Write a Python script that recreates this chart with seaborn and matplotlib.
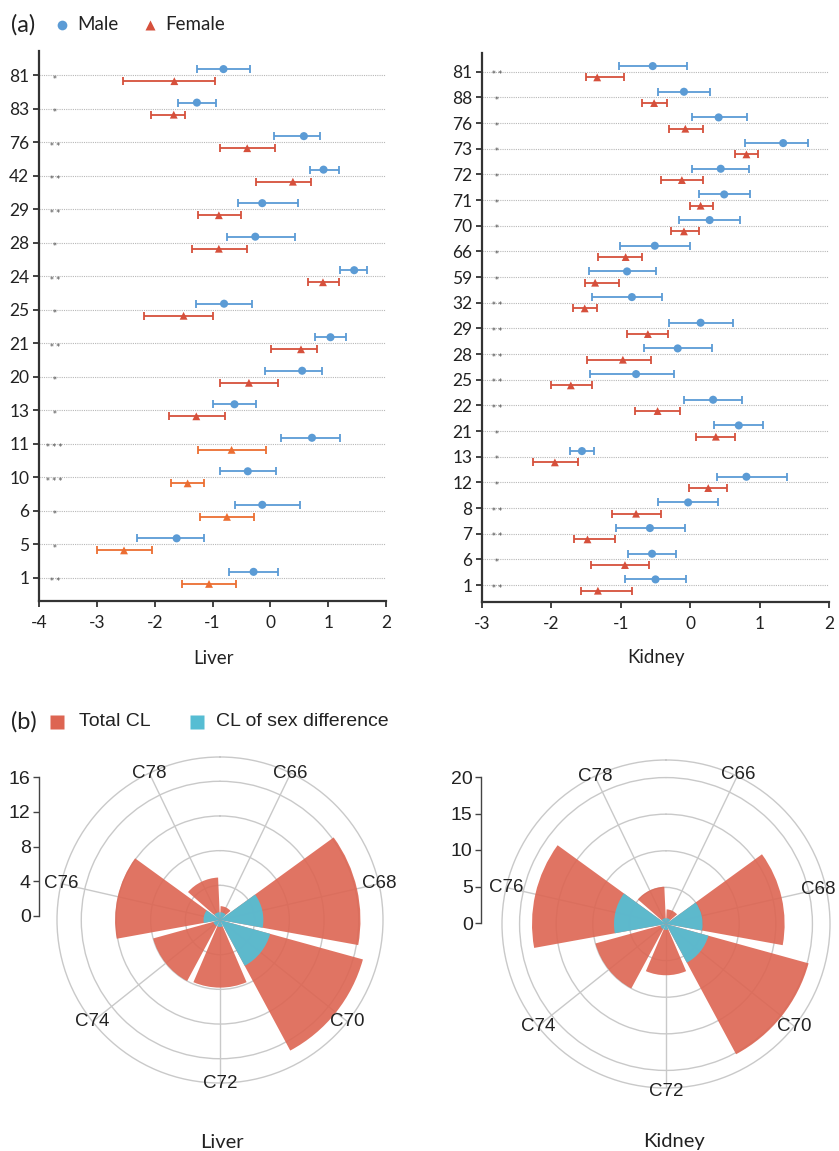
import numpy as np
import seaborn as sns
import matplotlib.pyplot as plt
from matplotlib.lines import Line2D

sns.set_theme(style="white")
plt.rcParams['font.family'] = ['Lato', 'DejaVu Sans']
plt.rcParams['axes.unicode_minus'] = False

# ---- (a) forest data: liver ----
liver_ids = ['81', '83', '76', '42', '29', '28', '24', '25', '21', '20', '13', '11', '10', '6', '5', '1']
liver_m = [-0.81, -1.27, 0.58, 0.92, -0.14, -0.26, 1.45, -0.80, 1.04, 0.55, -0.62, 0.72, -0.39, -0.14, -1.62, -0.29]
liver_m_lo = [-1.27, -1.60, 0.07, 0.69, -0.56, -0.75, 1.21, -1.28, 0.77, -0.10, -0.99, 0.19, -0.87, -0.61, -2.30, -0.72]
liver_m_hi = [-0.35, -0.94, 0.86, 1.18, 0.47, 0.43, 1.68, -0.32, 1.31, 0.89, -0.24, 1.20, 0.09, 0.51, -1.15, 0.14]
liver_f = [-1.66, -1.67, -0.40, 0.39, -0.89, -0.89, 0.91, -1.50, 0.53, -0.37, -1.28, -0.67, -1.43, -0.75, -2.53, -1.06]
liver_f_lo = [-2.54, -2.06, -0.87, -0.24, -1.25, -1.35, 0.65, -2.19, 0.02, -0.87, -1.75, -1.25, -1.72, -1.21, -3.00, -1.52]
liver_f_hi = [-0.96, -1.47, 0.08, 0.70, -0.51, -0.41, 1.18, -1.00, 0.80, 0.14, -0.79, -0.07, -1.15, -0.29, -2.05, -0.59]
liver_f_tone = ['red'] * 11 + ['orange'] * 5
liver_stars = ['*', '*', '**', '**', '**', '*', '**', '*', '**', '*', '*', '***', '***', '*', '*', '**']

# ---- (a) forest data: kidney ----
kidney_ids = ['81', '88', '76', '73', '72', '71', '70', '66', '59', '32', '29',
              '28', '25', '22', '21', '13', '12', '8', '7', '6', '1']
kidney_m = [-0.54, -0.09, 0.41, 1.34, 0.44, 0.49, 0.28, -0.51, -0.91, -0.84, 0.15,
            -0.18, -0.78, 0.33, 0.70, -1.56, 0.81, -0.03, -0.58, -0.55, -0.50]
kidney_m_lo = [-1.02, -0.46, 0.02, 0.79, 0.02, 0.13, -0.16, -1.01, -1.46, -1.41, -0.31,
               -0.67, -1.45, -0.09, 0.35, -1.73, 0.38, -0.47, -1.07, -0.90, -0.94]
kidney_m_hi = [-0.05, 0.28, 0.82, 1.70, 0.85, 0.86, 0.72, -0.01, -0.49, -0.41, 0.61,
               0.31, -0.23, 0.75, 1.05, -1.38, 1.39, 0.40, -0.08, -0.20, -0.06]
kidney_f = [-1.34, -0.52, -0.07, 0.81, -0.12, 0.15, -0.09, -0.93, -1.37, -1.52, -0.61,
            -0.97, -1.72, -0.47, 0.37, -1.95, 0.26, -0.78, -1.48, -0.94, -1.33]
kidney_f_lo = [-1.50, -0.69, -0.31, 0.64, -0.42, -0.01, -0.28, -1.33, -1.52, -1.69, -0.91,
               -1.48, -2.01, -0.79, 0.08, -2.27, -0.02, -1.13, -1.67, -1.43, -1.57]
kidney_f_hi = [-0.96, -0.34, 0.18, 0.98, 0.19, 0.33, 0.12, -0.69, -1.02, -1.35, -0.32,
               -0.57, -1.42, -0.15, 0.65, -1.62, 0.53, -0.42, -1.09, -0.59, -0.84]
kidney_f_tone = ['red'] * 21
kidney_stars = ['**', '*', '*', '*', '*', '*', '*', '*', '*', '**', '**',
                '**', '**', '**', '*', '*', '*', '**', '**', '*', '**']

# ---- (b) rose data ----
cl_cats = ['C66', 'C68', 'C70', 'C72', 'C74', 'C76', 'C78']
liver_total = [1.6, 16.2, 17.1, 7.8, 8.0, 12.1, 4.9]
liver_sex = [0.9, 5.0, 6.0, 0.8, 0.8, 1.9, 0.9]
kidney_total = [2.0, 16.2, 20.2, 7.0, 10.0, 18.3, 5.1]
kidney_sex = [0.8, 5.0, 6.0, 0.8, 0.8, 7.1, 0.8]

BLUE = '#5b9bd5'
FEM = {'red': '#d6503c', 'orange': '#ec6e32'}
TOTAL = '#dd6552'
SEX = '#56bdd3'
INK = '#222222'

W, H = 839, 1151
fig = plt.figure(figsize=(W / 100, H / 100), dpi=100)


def box(x0, y0, x1, y1):
    return [x0 / W, 1 - y1 / H, (x1 - x0) / W, (y1 - y0) / H]


def forest(ax, ids, m, mlo, mhi, f, flo, fhi, tone, stars, xlim, star_x, off, ylim):
    y = np.arange(len(ids))
    m, mlo, mhi = map(np.array, (m, mlo, mhi))
    f, flo, fhi = map(np.array, (f, flo, fhi))
    for yi in y:
        ax.plot(xlim, [yi, yi], color='#b8b8b8', lw=0.8, ls=(0, (1, 1)), zorder=0)
    ax.errorbar(m, y - off, xerr=[m - mlo, mhi - m], fmt='none', ecolor=BLUE,
                elinewidth=1.3, capsize=3, capthick=1.3, zorder=2)
    for i in y:
        ax.errorbar(f[i], i + off, xerr=[[f[i] - flo[i]], [fhi[i] - f[i]]], fmt='none',
                    ecolor=FEM[tone[i]], elinewidth=1.3, capsize=3, capthick=1.3, zorder=2)
    sns.scatterplot(x=m, y=y - off, ax=ax, color=BLUE, marker='o', s=34,
                    edgecolor='none', zorder=3, legend=False)
    sns.scatterplot(x=f, y=y + off, ax=ax, hue=tone, palette=FEM, marker='^', s=32,
                    edgecolor='none', zorder=3, legend=False)
    for yi, s in zip(y, stars):
        ax.text(star_x, yi + 0.12, ' '.join(s), fontsize=5.5, ha='center', va='center',
                color='#444444', family='DejaVu Sans')
    ax.set_xlim(xlim)
    ax.set_ylim(ylim)
    ax.set_yticks(y)
    ax.set_yticklabels(ids)
    ax.set_xticks(range(int(xlim[0]), int(xlim[1]) + 1))
    ax.set_xlabel('')
    ax.set_ylabel('')
    for side in ['top', 'right']:
        ax.spines[side].set_visible(False)
    for side in ['left', 'bottom']:
        ax.spines[side].set_linewidth(1.6)
        ax.spines[side].set_color('#333333')
    ax.tick_params(axis='both', direction='out', length=4, width=1.3, color='#333333',
                   labelsize=12.5, labelcolor=INK, left=True, bottom=True)
    ax.tick_params(axis='y', pad=3)
    ax.tick_params(axis='x', pad=6)


ax1 = fig.add_axes(box(39, 51, 386, 601))
forest(ax1, liver_ids, liver_m, liver_m_lo, liver_m_hi, liver_f, liver_f_lo, liver_f_hi,
       liver_f_tone, liver_stars, (-4, 2), -3.73, 0.18, (15.69, -0.72))
ax2 = fig.add_axes(box(482, 53, 829, 602))
forest(ax2, kidney_ids, kidney_m, kidney_m_lo, kidney_m_hi, kidney_f, kidney_f_lo, kidney_f_hi,
       kidney_f_tone, kidney_stars, (-3, 2), -2.79, 0.22, (20.66, -0.73))

fig.text(213 / W, 1 - 658 / H, 'Liver', ha='center', va='center', fontsize=13.5, color=INK)
fig.text(656 / W, 1 - 658 / H, 'Kidney', ha='center', va='center', fontsize=13.5, color=INK)

# header (a)
fig.text(11 / W, 1 - 25 / H, '(a)', ha='left', va='center', fontsize=17, color=INK)
fig.add_artist(Line2D([62 / W], [1 - 25 / H], marker='o', color=BLUE, ms=7,
                      mec='none', transform=fig.transFigure))
fig.text(77 / W, 1 - 25 / H, 'Male', ha='left', va='center', fontsize=13.5, color=INK)
fig.add_artist(Line2D([150 / W], [1 - 25 / H], marker='^', color=FEM['red'], ms=7,
                      mec='none', transform=fig.transFigure))
fig.text(165 / W, 1 - 25 / H, 'Female', ha='left', va='center', fontsize=13.5, color=INK)


def scale(x, y0, top, ticks):
    sc = fig.add_axes(box(x, top, x + 1, y0))
    sc.set_ylim(ticks[0], ticks[-1])
    sc.set_yticks(ticks)
    sc.set_xticks([])
    sc.patch.set_visible(False)
    for side in ['top', 'right', 'bottom']:
        sc.spines[side].set_visible(False)
    sc.spines['left'].set_color('#444444')
    sc.spines['left'].set_linewidth(1.0)
    sc.tick_params(axis='y', direction='out', length=4, width=1.0, color='#444444',
                   labelsize=14, pad=2, left=True)
    for t in sc.get_yticklabels():
        t.set_family('Liberation Sans')
        t.set_color(INK)


def rose(cx, cy, rad, rmax, grid, total, sex, lab_r):
    ax = fig.add_axes(box(cx - rad, cy - rad, cx + rad, cy + rad), projection='polar')
    n = len(cl_cats)
    ang = (np.arange(n) + 0.5) * 2 * np.pi / n
    width = 2 * np.pi / n * 0.9
    ax.set_theta_zero_location('N')
    ax.set_theta_direction(-1)
    ax.set_axisbelow(True)
    ax.bar(ang, total, width=width, color=TOTAL, alpha=0.9, linewidth=0, zorder=2)
    ax.bar(ang, sex, width=width, color=SEX, alpha=0.95, linewidth=0, zorder=3)
    ax.set_ylim(0, rmax)
    ax.set_yticks(grid)
    ax.set_yticklabels([])
    ax.set_xticks(ang)
    ax.set_xticklabels([])
    ax.grid(True, color='#c9c9c9', lw=1.0)
    ax.spines['polar'].set_color('#c9c9c9')
    ax.spines['polar'].set_linewidth(1.0)
    ax.set_facecolor('none')
    for a, lab, f in zip(ang, cl_cats, lab_r):
        ax.text(a, rmax * f, lab, ha='center', va='center', fontsize=13.5,
                family='Liberation Sans', color=INK)
    return ax


rose(220, 920, 163, 18.8, [4, 8, 12, 16], liver_total, liver_sex,
     [1.0, 1.0, 1.0, 1.0, 1.0, 1.0, 1.0])
scale(39, 916, 777, [0, 4, 8, 12, 16])
rose(666, 924, 164, 22.4, [5, 10, 15, 20], kidney_total, kidney_sex,
     [1.01, 0.955, 1.0, 1.02, 1.0, 1.0, 1.0])
scale(481, 923, 777, [0, 5, 10, 15, 20])

fig.text(222 / W, 1 - 1142 / H, 'Liver', ha='center', va='center', fontsize=14.5, color=INK)
fig.text(674 / W, 1 - 1142 / H, 'Kidney', ha='center', va='center', fontsize=14.5, color=INK)

# header (b)
fig.text(11 / W, 1 - 722 / H, '(b)', ha='left', va='center', fontsize=17, color=INK)
fig.add_artist(Line2D([57 / W], [1 - 722 / H], marker='s', color=TOTAL, ms=10.5,
                      mec='none', transform=fig.transFigure))
fig.text(79 / W, 1 - 722 / H, 'Total CL', ha='left', va='center', fontsize=14,
         family='Liberation Sans', color=INK)
fig.add_artist(Line2D([197 / W], [1 - 722 / H], marker='s', color=SEX, ms=10.5,
                      mec='none', transform=fig.transFigure))
fig.text(216 / W, 1 - 722 / H, 'CL of sex difference', ha='left', va='center', fontsize=14,
         family='Liberation Sans', color=INK)

fig.savefig('out.png', dpi=100)
